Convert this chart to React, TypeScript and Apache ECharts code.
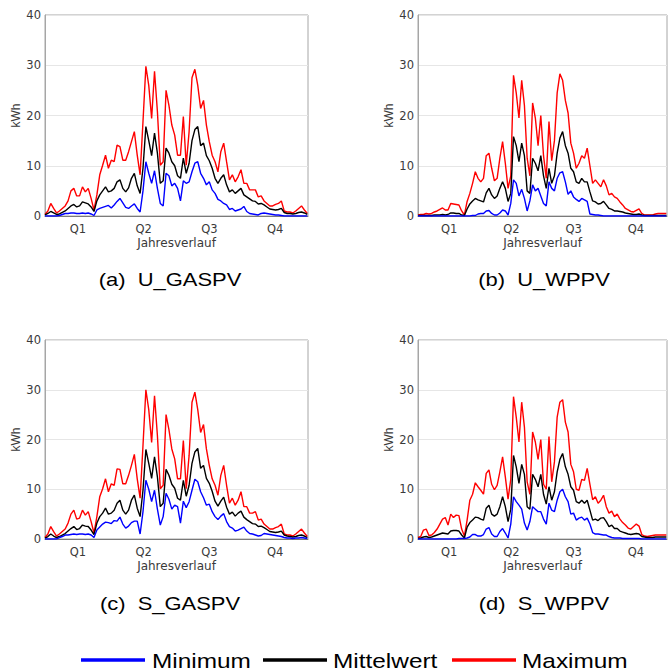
import React, { useEffect, useRef } from "react";
import * as echarts from "echarts";

// ---- data (one value every STEP_DAYS days) ----
const STEP_DAYS = 4;
const YEAR_DAYS = 365;
const quarterLabels = ["Q1", "Q2", "Q3", "Q4"];
const yTickMax = 40;
const yTickStep = 10;
const legendNames = ["Minimum", "Mittelwert", "Maximum"];
const panelLetters = ["(a)", "(b)", "(c)", "(d)"];
const panelNames = ["U_GASPV", "U_WPPV", "S_GASPV", "S_WPPV"];

// (a) U_GASPV
const maxUG = [0.3, 1.0, 2.5, 1.5, 0.6, 1.0, 1.5, 2.0, 3.0, 5.0, 5.5, 4.0, 4.0, 5.8, 4.8, 5.5, 3.5, 1.2, 4.2, 8.2, 10.1, 12.1, 9.5, 11.1, 10.8, 14.1, 13.8, 11.1, 11.1, 12.8, 14.8, 16.8, 12.1, 8.2, 18.8, 29.8, 26.0, 19.4, 28.8, 20.8, 10.1, 10.8, 25.0, 22.0, 18.1, 16.1, 12.1, 12.1, 19.8, 10.1, 16.8, 27.5, 29.2, 26.0, 21.4, 23.0, 18.1, 14.8, 12.1, 10.8, 8.8, 12.8, 14.5, 10.8, 7.2, 8.2, 6.8, 7.8, 9.2, 6.5, 6.5, 5.2, 5.2, 5.2, 3.8, 4.0, 3.0, 2.5, 2.0, 2.0, 2.3, 2.5, 3.0, 1.0, 0.8, 0.8, 0.6, 1.0, 1.5, 2.0, 1.2, 0.5];
const meanUG = [0.2, 0.5, 0.9, 0.6, 0.3, 0.4, 0.7, 1.0, 1.5, 2.0, 2.3, 1.8, 2.0, 2.8, 2.6, 2.4, 1.8, 0.9, 3.0, 4.2, 5.0, 5.8, 4.8, 5.0, 5.5, 6.8, 7.2, 5.5, 4.8, 5.6, 7.5, 8.5, 6.0, 4.5, 9.5, 17.8, 15.0, 12.0, 16.5, 12.5, 6.5, 7.0, 13.5, 12.5, 10.8, 10.0, 8.0, 7.5, 11.5, 8.5, 10.5, 15.0, 17.2, 17.8, 14.0, 14.5, 12.0, 11.0, 9.5, 7.5, 6.5, 7.5, 8.2, 6.2, 4.8, 5.2, 4.5, 5.0, 5.5, 4.2, 3.8, 3.4, 3.0, 2.9, 2.4, 2.5, 2.2, 1.8, 1.4, 1.3, 1.2, 1.3, 1.5, 0.7, 0.5, 0.5, 0.4, 0.5, 0.7, 0.8, 0.6, 0.3];
const minUG = [0, 0, 0, 0, 0, 0.1, 0.3, 0.5, 0.5, 0.6, 0.6, 0.5, 0.5, 0.6, 0.5, 0.6, 0.4, 0.1, 1.2, 1.5, 1.7, 1.9, 2.1, 1.6, 2.2, 2.9, 3.5, 2.6, 1.7, 1.5, 2.0, 2.4, 1.5, 0.8, 5.0, 10.8, 8.5, 6.5, 9.0, 5.5, 2.5, 2.0, 8.5, 8.0, 6.0, 6.5, 5.5, 3.0, 7.0, 6.5, 6.8, 8.8, 10.5, 10.8, 8.5, 7.5, 6.2, 6.8, 5.2, 4.5, 3.3, 3.0, 2.5, 2.2, 1.3, 1.5, 1.0, 1.2, 1.4, 1.9, 0.9, 0.5, 0.4, 0.3, 0.2, 0.5, 0.6, 0.5, 0.4, 0.3, 0.2, 0.2, 0.1, 0, 0, 0, 0, 0, 0, 0, 0, 0];

// (b) U_WPPV
const maxUW = [0.2, 0.3, 0.3, 0.5, 0.4, 0.5, 0.8, 1.0, 1.3, 1.6, 1.2, 1.2, 2.5, 2.4, 2.3, 2.2, 1.0, 0.2, 2.9, 4.5, 6.5, 8.8, 7.5, 6.8, 7.5, 12.0, 12.5, 9.5, 7.0, 7.5, 11.5, 14.8, 10.5, 5.5, 8.0, 28.0, 24.5, 19.5, 27.0, 22.0, 11.5, 8.0, 22.5, 19.5, 14.0, 20.0, 12.0, 7.5, 18.8, 11.0, 15.0, 24.5, 28.3, 27.0, 23.0, 20.5, 14.5, 12.5, 9.5, 10.5, 12.0, 11.5, 13.5, 10.0, 6.5, 7.2, 6.5, 5.8, 7.2, 6.0, 4.2, 4.5, 3.8, 3.5, 2.8, 2.2, 1.5, 1.2, 0.9, 0.8, 1.1, 1.4, 0.5, 0.2, 0.2, 0.2, 0.2, 0.4, 0.5, 0.5, 0.5, 0.5];
const meanUW = [0.1, 0.1, 0.1, 0.1, 0.1, 0.1, 0.2, 0.2, 0.2, 0.3, 0.2, 0.3, 0.6, 0.6, 0.5, 0.5, 0.2, 0.1, 1.4, 2.4, 3.0, 3.5, 3.2, 3.0, 2.8, 4.6, 5.5, 4.2, 3.5, 4.0, 5.5, 6.8, 5.5, 2.9, 4.5, 15.8, 14.0, 10.8, 14.5, 12.0, 5.0, 4.5, 11.5, 10.5, 9.0, 12.0, 8.0, 5.5, 9.5, 6.5, 8.0, 12.5, 15.5, 16.8, 14.0, 12.5, 9.5, 8.8, 6.8, 6.5, 7.5, 6.8, 6.8, 4.8, 3.0, 2.8, 2.4, 2.5, 2.9, 2.2, 1.5, 1.3, 1.0, 1.0, 0.9, 0.8, 0.6, 0.5, 0.4, 0.3, 0.3, 0.4, 0.2, 0.1, 0.1, 0.1, 0.1, 0.1, 0.1, 0.1, 0.1, 0.1];
const minUW = [0, 0, 0, 0, 0, 0, 0, 0, 0, 0, 0, 0, 0, 0, 0, 0, 0, 0, 0, 0, 0.1, 0.1, 0.4, 0.5, 0.5, 1.0, 1.1, 0.5, 0.2, 0.2, 0.6, 1.2, 1.0, 0.2, 2.5, 7.2, 6.5, 4.0, 5.3, 3.5, 1.0, 3.0, 6.2, 5.0, 5.5, 4.0, 2.5, 2.0, 6.8, 5.5, 5.0, 7.5, 8.6, 8.8, 6.8, 4.3, 5.0, 3.8, 3.3, 2.9, 3.5, 3.2, 2.9, 0.4, 0.3, 0.2, 0.2, 0.1, 0, 0, 0, 0, 0, 0, 0, 0, 0, 0, 0, 0, 0, 0, 0, 0, 0, 0, 0, 0, 0, 0, 0, 0];

// (c) S_GASPV
const maxSG = [0.3, 1.0, 2.5, 1.5, 0.6, 1.0, 1.5, 2.0, 3.2, 5.0, 5.8, 4.0, 4.2, 5.8, 4.8, 5.5, 3.5, 1.2, 4.5, 8.5, 10.1, 12.1, 9.5, 11.1, 10.8, 14.1, 14.0, 11.1, 11.1, 12.8, 14.8, 17.0, 12.1, 8.2, 18.8, 30.0, 26.0, 19.4, 28.8, 20.8, 10.1, 10.8, 25.0, 22.0, 18.1, 16.1, 12.1, 12.1, 19.8, 10.1, 16.8, 27.5, 29.5, 26.0, 21.4, 23.0, 18.1, 14.8, 12.1, 10.8, 8.8, 12.8, 14.8, 10.8, 7.2, 8.2, 6.8, 7.8, 9.5, 6.5, 6.5, 5.2, 5.2, 5.5, 3.8, 4.0, 3.0, 2.5, 2.0, 2.0, 2.3, 2.5, 3.0, 1.0, 0.8, 0.8, 0.6, 1.0, 1.5, 2.0, 1.2, 0.5];
const meanSG = [0.2, 0.5, 1.0, 0.6, 0.3, 0.5, 0.8, 1.1, 1.6, 2.1, 2.5, 1.9, 2.1, 2.8, 2.6, 2.5, 1.8, 0.9, 3.2, 4.5, 5.2, 6.2, 5.0, 5.2, 5.8, 7.2, 7.8, 5.8, 5.0, 5.8, 7.8, 8.8, 6.2, 4.5, 9.8, 18.0, 15.2, 12.2, 16.5, 12.5, 6.5, 7.2, 14.0, 12.8, 11.0, 10.2, 8.2, 7.8, 11.8, 8.6, 10.8, 15.2, 17.5, 18.2, 14.2, 14.8, 12.2, 11.2, 9.6, 7.6, 6.6, 7.6, 8.4, 6.4, 5.0, 5.4, 4.6, 5.2, 5.6, 4.4, 3.9, 3.5, 3.1, 3.0, 2.5, 2.6, 2.3, 1.9, 1.5, 1.4, 1.3, 1.4, 1.6, 0.8, 0.6, 0.5, 0.4, 0.5, 0.7, 0.8, 0.6, 0.3];
const minSG = [0, 0, 0, 0, 0, 0.3, 0.5, 0.8, 0.8, 0.9, 1.0, 0.9, 1.0, 1.0, 0.9, 1.0, 0.8, 0.3, 1.8, 2.4, 3.0, 3.4, 3.3, 3.1, 3.7, 3.6, 4.4, 3.0, 2.2, 2.6, 3.3, 3.6, 3.6, 1.0, 5.5, 11.8, 10.0, 7.5, 9.8, 6.0, 2.8, 4.5, 9.2, 8.0, 6.0, 6.8, 6.5, 3.2, 7.6, 6.3, 7.5, 9.8, 12.0, 11.5, 9.5, 8.3, 6.8, 7.0, 5.5, 4.5, 3.9, 4.6, 5.1, 3.5, 2.5, 2.2, 1.6, 1.8, 2.1, 2.4, 1.6, 1.1, 1.0, 0.8, 0.6, 0.7, 1.1, 1.0, 0.9, 0.8, 0.7, 0.6, 0.5, 0.3, 0.2, 0.2, 0.1, 0.2, 0.2, 0.3, 0.2, 0.1];

// (d) S_WPPV
const maxSW = [0.3, 0.5, 1.8, 2.0, 0.7, 0.8, 1.3, 2.0, 3.0, 4.0, 4.3, 2.8, 5.0, 4.3, 4.8, 4.7, 2.0, 0.6, 3.8, 7.8, 9.0, 11.3, 10.5, 9.8, 9.0, 13.2, 13.9, 11.0, 9.9, 10.8, 13.5, 16.5, 12.5, 8.0, 12.0, 28.6, 24.5, 19.5, 27.5, 22.5, 11.5, 9.0, 21.5, 19.5, 16.0, 20.0, 11.0, 10.0, 20.6, 11.5, 15.5, 24.5, 27.5, 28.0, 23.5, 21.5, 15.0, 13.5, 10.0, 9.8, 12.0, 11.8, 14.2, 11.0, 7.9, 8.5, 7.2, 7.8, 8.8, 6.5, 5.2, 5.6, 4.5, 5.0, 4.0, 3.3, 2.8, 2.2, 2.0, 2.5, 3.0, 2.6, 0.9, 0.6, 0.5, 0.6, 0.7, 0.8, 0.8, 0.8, 0.8, 0.8];
const meanSW = [0.1, 0.2, 0.4, 0.5, 0.3, 0.4, 0.6, 0.8, 1.0, 1.2, 1.1, 1.0, 1.6, 1.7, 1.7, 1.6, 0.8, 0.2, 2.4, 3.3, 3.8, 4.4, 4.3, 4.0, 3.8, 6.2, 6.8, 5.0, 4.6, 5.0, 6.5, 8.5, 6.5, 3.5, 6.0, 16.8, 14.5, 11.2, 15.0, 13.0, 6.5, 6.0, 13.0, 12.0, 10.5, 13.0, 9.0, 7.0, 10.5, 7.8, 9.5, 13.5, 16.0, 17.2, 14.5, 13.0, 10.5, 9.8, 7.5, 7.2, 7.8, 7.2, 7.8, 5.8, 3.8, 4.0, 3.7, 4.2, 4.3, 3.5, 2.5, 2.8, 2.1, 2.1, 1.6, 1.4, 1.2, 1.0, 0.9, 1.0, 1.1, 1.0, 0.5, 0.4, 0.3, 0.3, 0.3, 0.4, 0.4, 0.4, 0.4, 0.4];
const minSW = [0, 0, 0, 0, 0, 0, 0, 0, 0, 0, 0, 0, 0, 0, 0, 0.1, 0.1, 0.1, 0.2, 0.4, 0.9, 0.9, 0.6, 0.6, 0.9, 2.0, 2.3, 1.0, 0.5, 0.5, 1.5, 2.1, 1.2, 0.2, 3.0, 8.5, 7.5, 6.8, 6.0, 3.2, 1.8, 3.5, 6.5, 6.0, 5.5, 5.5, 4.0, 3.0, 7.2, 5.8, 5.5, 7.8, 9.5, 10.0, 8.5, 7.5, 5.0, 5.2, 3.8, 4.2, 4.4, 3.8, 4.2, 3.0, 1.3, 1.0, 1.0, 0.9, 0.8, 0.8, 0.5, 0.3, 0.2, 0.2, 0.2, 0.1, 0.1, 0.1, 0.1, 0.1, 0.1, 0.1, 0, 0, 0, 0, 0, 0, 0, 0, 0, 0];

const panelMin = [minUG, minUW, minSG, minSW];
const panelMean = [meanUG, meanUW, meanSG, meanSW];
const panelMax = [maxUG, maxUW, maxSG, maxSW];

// ---- layout / style ----
const COLORS = ["#0000ff", "#000000", "#ff0000"];
const GRIDS = [
  { left: 45, top: 15, width: 263, height: 201 },
  { left: 418, top: 15, width: 263, height: 201 },
  { left: 45, top: 340, width: 263, height: 199 },
  { left: 418, top: 340, width: 263, height: 199 },
];
const CAPTION_POS = [
  { x: 170, y: 280 },
  { x: 544, y: 280 },
  { x: 170, y: 604 },
  { x: 544, y: 604 },
];
const LEGEND_ITEMS = [
  { x1: 81, x2: 145, tx: 152 },
  { x1: 263, x2: 327, tx: 333 },
  { x1: 452, x2: 516, tx: 522 },
];
const LEGEND_Y = 660;
const TICK_FONT = "DejaVu Sans";
const TEXT_COLOR = "#3a3a3a";

function toPoints(arr: number[]) {
  return arr.map((v, i) => [i * STEP_DAYS, v]);
}

function buildOption() {
  const quarterStep = YEAR_DAYS / 8;
  const xAxis = GRIDS.map((_, g) => ({
    type: "value",
    gridIndex: g,
    min: 0,
    max: YEAR_DAYS,
    interval: quarterStep,
    axisTick: { show: false },
    splitLine: { show: false },
    axisLine: { show: true, lineStyle: { color: "#7a7a7a", width: 1 } },
    axisLabel: {
      margin: 7,
      fontFamily: TICK_FONT,
      fontSize: 11.5,
      color: TEXT_COLOR,
      formatter: (v: number) => {
        const k = Math.round(v / quarterStep);
        return k % 2 === 1 ? quarterLabels[(k - 1) / 2] : "";
      },
    },
    name: "Jahresverlauf",
    nameLocation: "middle",
    nameGap: 21,
    nameTextStyle: { fontFamily: TICK_FONT, fontSize: 12, color: TEXT_COLOR },
  }));
  const yAxis = GRIDS.map((_, g) => ({
    type: "value",
    gridIndex: g,
    min: 0,
    max: yTickMax,
    interval: yTickStep,
    axisTick: { show: false },
    axisLine: { show: true, lineStyle: { color: "#a6a6a6", width: 1 } },
    splitLine: { show: true, lineStyle: { color: "#e6e6e6", width: 1 } },
    axisLabel: { margin: 4, fontFamily: TICK_FONT, fontSize: 11.5, color: TEXT_COLOR },
    name: "kWh",
    nameLocation: "middle",
    nameRotate: 90,
    nameGap: 18,
    nameTextStyle: { fontFamily: "Liberation Sans", fontSize: 12, color: TEXT_COLOR },
  }));
  const series: any[] = [];
  GRIDS.forEach((_, g) => {
    const sets = [panelMax[g], panelMean[g], panelMin[g]];
    const names = [legendNames[2], legendNames[1], legendNames[0]];
    const cols = [COLORS[2], COLORS[1], COLORS[0]];
    sets.forEach((arr, k) => {
      series.push({
        type: "line",
        name: names[k],
        xAxisIndex: g,
        yAxisIndex: g,
        data: toPoints(arr),
        showSymbol: false,
        symbol: "none",
        lineStyle: { color: cols[k], width: 1.4 },
        itemStyle: { color: cols[k] },
        z: 2 + k,
      });
    });
  });
  const graphic: any[] = [];
  CAPTION_POS.forEach((p, g) => {
    graphic.push({
      type: "text",
      x: p.x,
      y: p.y,
      scaleX: 1.22,
      style: {
        text: panelLetters[g] + "  " + panelNames[g],
        x: 0,
        y: 0,
        fill: "#000",
        font: "18px 'Liberation Sans'",
        align: "center",
        verticalAlign: "middle",
        textAlign: "center",
        textVerticalAlign: "middle",
      },
    });
  });
  LEGEND_ITEMS.forEach((it, k) => {
    graphic.push({
      type: "line",
      shape: { x1: it.x1, y1: LEGEND_Y, x2: it.x2, y2: LEGEND_Y },
      style: { stroke: COLORS[k], lineWidth: 3.5 },
    });
    graphic.push({
      type: "text",
      x: it.tx,
      y: LEGEND_Y + 1,
      scaleX: 1.22,
      style: {
        text: legendNames[k],
        x: 0,
        y: 0,
        fill: "#000",
        font: "20px 'Liberation Sans'",
        align: "left",
        verticalAlign: "middle",
        textAlign: "left",
        textVerticalAlign: "middle",
      },
    });
  });
  return {
    animation: false,
    backgroundColor: "#ffffff",
    grid: GRIDS.map((g) => ({
      ...g,
      show: true,
      borderColor: "#a6a6a6",
      borderWidth: 1,
      backgroundColor: "transparent",
      containLabel: false,
    })),
    xAxis,
    yAxis,
    series,
    graphic,
  };
}

export default function App() {
  const ref = useRef<HTMLDivElement | null>(null);
  useEffect(() => {
    document.body.style.margin = "0";
    if (!ref.current) return;
    const chart = echarts.init(ref.current, null, { renderer: "svg" });
    chart.setOption(buildOption() as any);
    return () => chart.dispose();
  }, []);
  return <div ref={ref} style={{ width: 670, height: 672, overflow: "hidden" }} />;
}
